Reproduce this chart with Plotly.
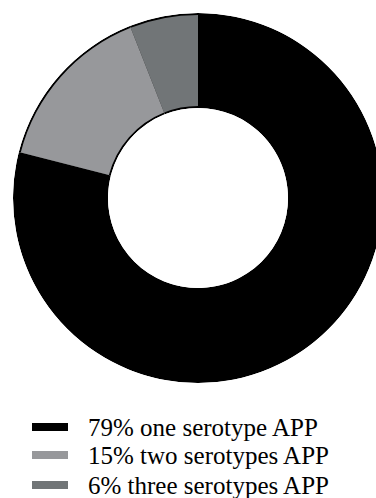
import plotly.graph_objects as go

# Share of herds by number of APP serotypes detected
labels = ["79% one serotype APP", "15% two serotypes APP", "6% three serotypes APP"]
shares = [79, 15, 6]
colors = ["#000000", "#97989b", "#717577"]

W, H = 386, 498
cx, cy = 198, 198          # ring centre (px)
R_out, R_in = 185, 90      # ring radii incl. dark rim (px)
edge = 2                   # dark rim thickness
text_font = dict(family="Liberation Serif", size=25, color="#000000")

# key rows below the ring (px from top)
row_y = [427, 455, 485]
swatch_x, swatch_w, swatch_h = 50, 36, 8
label_x = 86

# angular extent of each segment, clockwise from 12 o'clock
total = sum(shares)
widths = [360 * s / total for s in shares]
centres = []
acc = 0.0
for w in widths:
    centres.append(acc + w / 2)
    acc += w

fig = go.Figure()

# dark rim behind the segments
fig.add_trace(go.Barpolar(
    theta=centres, width=widths, base=[R_in] * len(shares),
    r=[R_out - R_in] * len(shares),
    marker=dict(color="#000000", line=dict(width=0)),
    hoverinfo="skip", showlegend=False,
))

# segments
fig.add_trace(go.Barpolar(
    theta=centres, width=widths, base=[R_in + edge] * len(shares),
    r=[R_out - R_in - 2 * edge] * len(shares),
    marker=dict(color=colors, line=dict(width=0)),
    text=labels, hoverinfo="text", showlegend=False,
))

# key: a colour bar and a label per segment
for name, col, y in zip(labels, colors, row_y):
    fig.add_annotation(
        x=swatch_x / W, y=1 - y / H, xref="paper", yref="paper",
        xanchor="center", yanchor="middle", showarrow=False,
        text=" ", font=dict(size=1), width=swatch_w, height=swatch_h,
        bgcolor=col, borderpad=0, borderwidth=0,
    )
    fig.add_annotation(
        x=label_x / W, y=1 - y / H, xref="paper", yref="paper",
        xanchor="left", yanchor="middle", showarrow=False,
        text=name, font=text_font,
    )

fig.update_layout(
    width=W, height=H, autosize=False,
    margin=dict(l=0, r=0, t=0, b=0),
    paper_bgcolor="#ffffff", plot_bgcolor="#ffffff",
    font=text_font,
    showlegend=False,
    polar=dict(
        domain=dict(x=[(cx - R_out) / W, (cx + R_out) / W],
                    y=[(H - cy - R_out) / H, (H - cy + R_out) / H]),
        hole=R_in / R_out, bgcolor="#ffffff",
        barmode="overlay", bargap=0,
        radialaxis=dict(range=[R_in, R_out], visible=False),
        angularaxis=dict(rotation=90, direction="clockwise", visible=False,
                         showgrid=False, showline=False, ticks=""),
    ),
)

fig.write_html(
    "out.html",
    config={"displayModeBar": False},
    post_script="document.documentElement.style.overflow='hidden';"
                "document.body.style.overflow='hidden';",
)
